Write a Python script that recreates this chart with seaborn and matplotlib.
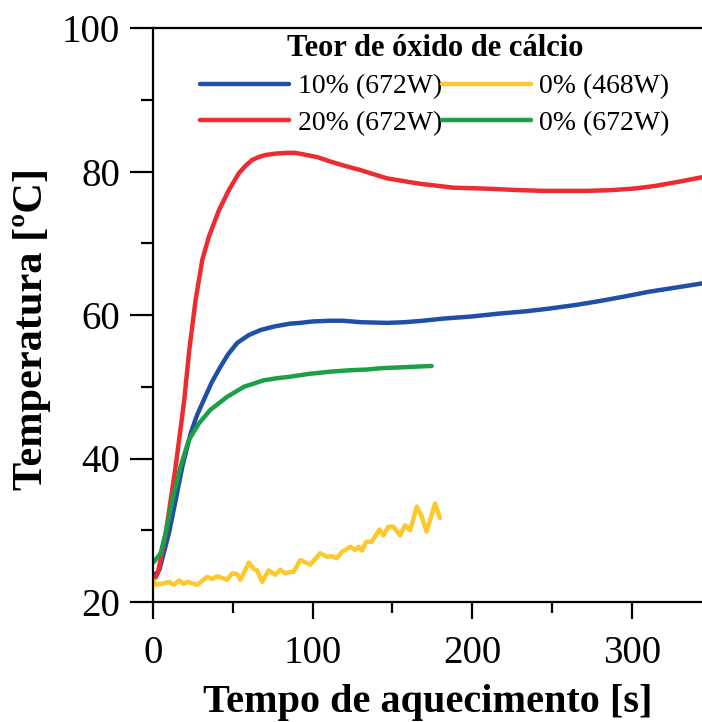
import numpy as np
import pandas as pd
import seaborn as sns
import matplotlib.pyplot as plt
from matplotlib.ticker import MultipleLocator

# 20% CaO (672W)
t_20 = [0, 1.5, 3, 8, 14.2, 19.6, 22.7, 24.6, 26.7, 30.9, 35, 41.3, 47.5, 53.75, 58, 62.1,
        66, 70.4, 77, 84, 89, 94, 103, 111, 120, 130, 146.5, 167, 188, 210, 230, 244, 260,
        271.5, 287, 302.7, 315, 330, 344]
T_20 = [23.5, 23.4, 24.0, 29.6, 38.9, 48.2, 55.1, 58.4, 62.1, 67.7, 70.9, 74.6, 77.4, 79.75,
        80.8, 81.6, 82.0, 82.3, 82.5, 82.6, 82.6, 82.4, 82.0, 81.4, 80.8, 80.2, 79.05, 78.3,
        77.75, 77.6, 77.4, 77.3, 77.3, 77.3, 77.4, 77.65, 78.0, 78.6, 79.2]

# 10% CaO (672W)
t_10 = [0, 1.5, 4, 10, 14.2, 18.4, 23.6, 27.5, 31.9, 37, 42.3, 47, 52.7, 60, 67.3, 76, 86, 92.3,
        100, 111, 119, 130, 146.5, 158, 169, 182, 200, 217, 233, 248.5, 265, 280, 296, 311,
        327, 344]
T_10 = [23.8, 23.8, 24.5, 29.6, 34.2, 38.9, 43.5, 46.0, 48.2, 50.7, 52.8, 54.5, 56.1, 57.2, 57.9,
        58.4, 58.8, 58.9, 59.1, 59.2, 59.2, 59.0, 58.9, 59.0, 59.2, 59.5, 59.8, 60.2, 60.5,
        60.9, 61.4, 61.95, 62.6, 63.25, 63.8, 64.4]

# 0% CaO (468W)
t_0a = [0, 1.7, 6.9, 10, 13.1, 16.3, 19.4, 21.5, 27.7, 34, 37.1, 40.2, 46.5, 49.6, 52.7, 54.8,
        60, 63.1, 65.3, 68.4, 72.5, 76.7, 79.8, 82.9, 86, 88.1, 92.3, 98.6, 104.8, 109, 112.1,
        115.2, 118.4, 123.6, 126.7, 128.8, 130.9, 133.6, 137.1, 141.9, 144.4, 147.5, 150.6,
        154.8, 157.9, 161.1, 165.3, 168.4, 171.5, 176.7, 179.8]
T_0a = [23.1, 22.4, 22.6, 22.8, 22.4, 23.0, 22.5, 22.8, 22.4, 23.5, 23.2, 23.6, 23.1, 24.0, 23.9,
        23.1, 25.5, 24.6, 24.4, 22.8, 24.4, 23.8, 24.5, 24.0, 24.2, 24.2, 25.85, 25.2, 26.8, 26.3,
        26.4, 26.1, 27.0, 27.7, 27.25, 27.7, 27.15, 28.4, 28.4, 30.1, 29.3, 30.5, 30.5, 29.3,
        30.7, 30.0, 33.3, 31.9, 29.8, 33.75, 31.7]

# 0% CaO (672W)
t_0b = [0, 0.6, 4.8, 7.9, 12.1, 17.3, 22.5, 28.8, 36, 46.5, 57, 69.4, 78, 86, 98, 111, 123.6,
        134, 144, 155, 165, 174.6]
T_0b = [25.6, 25.6, 26.8, 29.6, 34.2, 38.9, 42.6, 44.9, 46.8, 48.6, 50.0, 50.9, 51.2, 51.4, 51.8,
        52.1, 52.3, 52.4, 52.6, 52.7, 52.8, 52.9]

series = [
    ("10% (672W)", t_10, T_10, "#1f4fa6"),
    ("20% (672W)", t_20, T_20, "#ee2b30"),
    ("0% (468W)", t_0a, T_0a, "#fdc82c"),
    ("0% (672W)", t_0b, T_0b, "#1c9f47"),
]

sns.set_style("ticks")
plt.rcParams["font.family"] = ["Liberation Serif", "DejaVu Serif"]
plt.rcParams["text.color"] = "black"
plt.rcParams["axes.labelcolor"] = "black"
plt.rcParams["xtick.color"] = "black"
plt.rcParams["ytick.color"] = "black"

fig = plt.figure(figsize=(7.02, 7.22), dpi=100)
ax = fig.add_axes([153 / 702, 120 / 722, 1 - 153 / 702, 574 / 722])

for name, t, T, col in series:
    df = pd.DataFrame({"t": t, "T": T})
    sns.lineplot(data=df, x="t", y="T", ax=ax, color=col, lw=3.2, label=name,
                 sort=False, estimator=None)

ax.set_xlim(0, 344)
ax.set_ylim(20, 100)
ax.xaxis.set_major_locator(MultipleLocator(100))
ax.xaxis.set_minor_locator(MultipleLocator(50))
ax.yaxis.set_major_locator(MultipleLocator(20))
ax.yaxis.set_minor_locator(MultipleLocator(10))

ax.spines["right"].set_visible(False)
for s in ["left", "bottom", "top"]:
    ax.spines[s].set_linewidth(1.6)
    ax.spines[s].set_color("black")

ax.tick_params(axis="y", which="major", length=16.5, width=1.6, labelsize=28, pad=7)
ax.tick_params(axis="y", which="minor", length=8.5, width=1.6)
ax.tick_params(axis="x", which="major", length=12, width=1.6, labelsize=28, pad=12)
ax.tick_params(axis="x", which="minor", length=8, width=1.6)

ax.set_xlabel("Tempo de aquecimento [s]", fontsize=29, fontweight="bold")
ax.set_ylabel("Temperatura [ºC]", fontsize=30.5, fontweight="bold")
ax.xaxis.set_label_coords(0.5, -0.142)
ax.yaxis.set_label_coords(-0.186, 0.4756)

leg = ax.legend(title="Teor de óxido de cálcio", ncol=2, frameon=False, fontsize=20,
                title_fontproperties={"weight": "bold", "size": 22},
                loc="upper center", bbox_to_anchor=(435 / 702, 0.976),
                bbox_transform=fig.transFigure, handlelength=3.2, handletextpad=0.3,
                columnspacing=0.0, labelspacing=0.4, borderpad=0.1)

fig.savefig("out.png", dpi=100)
